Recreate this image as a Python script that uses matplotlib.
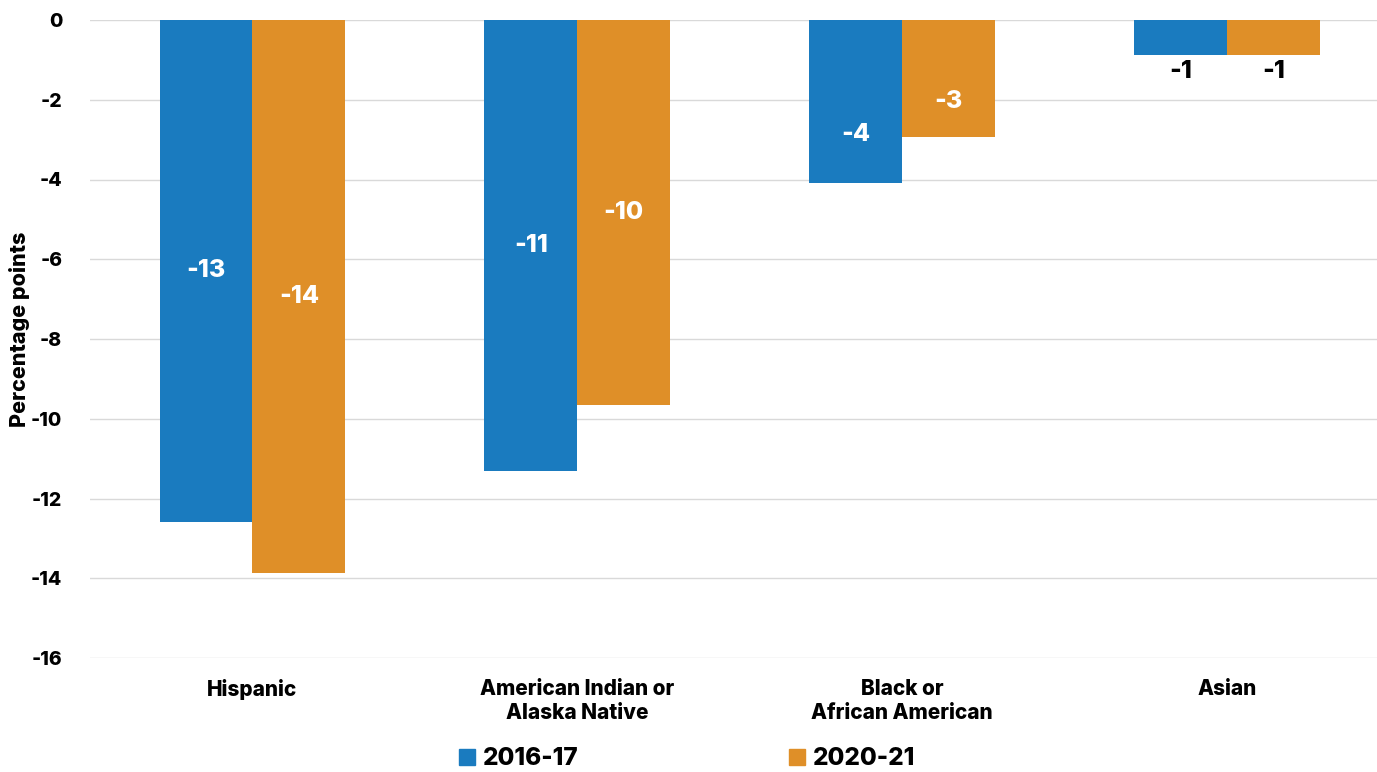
import numpy as np
import matplotlib.pyplot as plt
from matplotlib.patches import Patch

plt.rcParams['font.family'] = ['Inter', 'DejaVu Sans']
plt.rcParams['font.weight'] = 'heavy'

categories = ["Hispanic", "American Indian or\nAlaska Native", "Black or\nAfrican American", "Asian"]
series = ["2016-17", "2020-21"]
vals_2016 = [-12.58, -11.30, -4.09, -0.88]
vals_2020 = [-13.88, -9.65, -2.93, -0.88]
colors = ["#1a7bbf", "#df8f28"]

# where the value label sits along the bar (fraction of bar length); None = below bar end
label_frac = [0.5, 0.5, 0.7, None]

fig = plt.figure(figsize=(13.77, 7.72), dpi=100)
ax = fig.add_axes([90 / 1377, 1 - 658 / 772, 1 - 90 / 1377, (658 - 20) / 772])

x = np.arange(len(categories))
w = 0.286
for i, (vals, c) in enumerate(zip([vals_2016, vals_2020], colors)):
    xs = x + (i - 0.5) * w
    ax.bar(xs, vals, width=w, color=c, zorder=3)
    for xi, v, f in zip(xs, vals, label_frac):
        if f is None:
            ax.text(xi, v - 0.12, f"{round(v):d}", ha='center', va='top',
                    fontsize=18, fontweight='heavy', color='black', zorder=4)
        else:
            ax.text(xi, v * f, f"{round(v):d}", ha='center', va='center',
                    fontsize=18, fontweight='heavy', color='white', zorder=4)

ax.set_ylim(-16, 0)
ax.set_xlim(-0.5, (1377 - 252) / 325)
ax.set_yticks(np.arange(-16, 1, 2))
ax.set_yticklabels([str(t) for t in range(-16, 1, 2)])
ax.set_xticks(x)
ax.set_xticklabels(categories, fontsize=15, fontweight='heavy', linespacing=1.25)
ax.tick_params(axis='y', labelsize=14, length=0, pad=20)
ax.tick_params(axis='x', length=0, pad=15)
ax.grid(axis='y', color='#d9d9d9', linewidth=1, zorder=0)
for s in ax.spines.values():
    s.set_visible(False)

ax.set_ylabel("Percentage points", fontsize=15.5, fontweight='heavy')
ax.yaxis.set_label_coords(-60 / 1287, 0.515)

handles = [Patch(color=c, label=s) for c, s in zip(colors, series)]
fig.legend(handles=handles, loc='lower center', bbox_to_anchor=(0.499, -0.026), ncol=2,
           frameon=False, fontsize=17.5, handlelength=0.65, handleheight=0.65,
           handletextpad=0.3, columnspacing=8.7)

fig.savefig("out.png", dpi=100)
